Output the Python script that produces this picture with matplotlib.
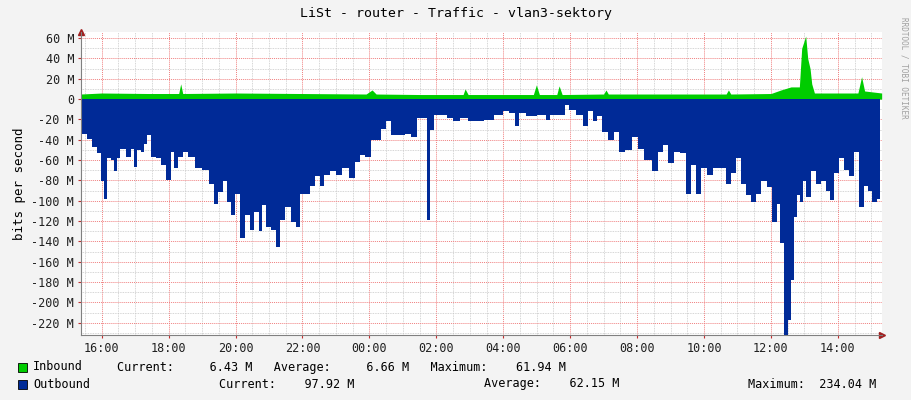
import numpy as np
import matplotlib
matplotlib.use("Agg")
import matplotlib.pyplot as plt
from matplotlib.ticker import MultipleLocator, FixedLocator

# Hours since midnight of day one (values > 24 are the next day), traffic in Mbit/s
out_hours = [15.37, 15.47, 15.62, 15.77, 15.92, 16.02, 16.12, 16.22, 16.32, 16.41, 16.51, 16.61,
             16.81, 16.91, 17.01, 17.11, 17.21, 17.31, 17.41, 17.51, 17.71, 17.81, 18.01, 18.11,
             18.21, 18.36, 18.50, 18.65, 18.90, 19.10, 19.30, 19.40, 19.55, 19.70, 19.80, 19.90,
             20.05, 20.20, 20.35, 20.49, 20.64, 20.74, 20.84, 20.99, 21.14, 21.29, 21.39, 21.59,
             21.74, 21.89, 21.99, 22.14, 22.29, 22.48, 22.58, 22.73, 22.93, 23.08, 23.28, 23.48,
             23.63, 23.78, 23.98, 24.13, 24.28, 24.42, 24.57, 24.72, 24.97, 25.17, 25.32, 25.52,
             25.67, 25.77, 25.87, 25.97, 26.22, 26.41, 26.61, 26.81, 27.06, 27.31, 27.56, 27.91,
             28.06, 28.31, 28.39, 28.56, 28.81, 29.20, 29.35, 29.45, 29.80, 29.88, 30.05, 30.30,
             30.45, 30.60, 30.75, 30.85, 31.04, 31.24, 31.39, 31.54, 31.74, 31.94, 32.09, 32.34,
             32.54, 32.69, 32.84, 33.03, 33.18, 33.38, 33.53, 33.68, 33.83, 33.98, 34.18, 34.38,
             34.58, 34.73, 34.88, 35.02, 35.17, 35.32, 35.47, 35.62, 35.77, 35.97, 36.12, 36.22,
             36.32, 36.47, 36.57, 36.65, 36.72, 36.82, 36.92, 37.01, 37.11, 37.26, 37.41, 37.56,
             37.71, 37.81, 37.96, 38.11, 38.26, 38.41, 38.54, 38.71, 38.86, 38.95, 39.10, 39.25]
out_mbps = [27, 34, 39, 47, 53, 81, 98, 58, 60, 71, 58, 49,
            57, 49, 67, 50, 52, 44, 35, 57, 58, 65, 80, 52,
            68, 57, 52, 57, 68, 70, 83, 103, 91, 81, 101, 114,
            93, 137, 114, 129, 111, 130, 104, 126, 129, 145, 119, 106,
            121, 126, 93, 93, 85, 76, 85, 75, 71, 75, 68, 78,
            62, 55, 57, 40, 40, 29, 22, 35, 35, 34, 37, 19,
            19, 119, 30, 16, 16, 19, 22, 19, 22, 22, 21, 16,
            12, 14, 26, 14, 17, 16, 21, 16, 16, 6, 11, 16,
            26, 12, 22, 17, 32, 40, 32, 52, 50, 37, 49, 60,
            71, 52, 45, 63, 52, 53, 93, 65, 93, 68, 75, 68,
            68, 83, 73, 58, 83, 94, 101, 93, 81, 86, 121, 103,
            142, 234, 217, 178, 116, 94, 101, 81, 96, 71, 83, 81,
            90, 99, 73, 58, 70, 76, 52, 106, 85, 90, 101, 98]

in_hours = [15.37, 16.0, 17.4, 18.3, 18.36, 18.42, 20.0, 23.9, 24.08, 24.2, 25.5, 26.8,
            26.86, 26.95, 28.9, 28.99, 29.08, 29.6, 29.67, 29.76, 31.0, 31.07, 31.14, 32.0,
            34.66, 34.73, 34.8, 36.0, 36.3, 36.6, 36.85, 36.92, 37.04, 37.1, 37.17, 37.22,
            37.3, 38.6, 38.71, 38.8, 39.31]
in_mbps = [5, 6, 5.5, 5.5, 15, 5.5, 6, 5, 9, 5, 4.5, 4.5,
           10, 4.5, 4.5, 14, 4.5, 4.5, 13, 4.5, 5, 9, 5, 5,
           5, 9, 5, 5.5, 9, 12, 12, 50, 62, 40, 30, 15,
           6, 6, 22, 8, 6]

tick_hours = [16, 18, 20, 22, 24, 26, 28, 30, 32, 34, 36, 38]
tick_labels = ["16:00", "18:00", "20:00", "22:00", "00:00", "02:00",
               "04:00", "06:00", "08:00", "10:00", "12:00", "14:00"]
y_ticks = list(range(-220, 61, 20))

legend_rows = [
    ("Inbound", "#00cc00", "Current:     6.43 M   Average:     6.66 M   Maximum:    61.94 M"),
    ("Outbound", "#002a97", None),
]

plt.rcParams['font.family'] = ['DejaVu Sans Mono']
plt.rcParams['font.size'] = 8.5

fig = plt.figure(figsize=(9.11, 4.0), dpi=100, facecolor="#f3f3f3")
ax = fig.add_axes([81 / 911, 65 / 400, 801 / 911, 303 / 400])
ax.set_facecolor("white")

ax.fill_between(in_hours, 0, in_mbps, color="#00cc00", lw=0)
ax.fill_between(out_hours, 0, [-v for v in out_mbps], step="mid", color="#002a97", lw=0)

ax.set_xlim(15.38, 39.32)
ax.set_ylim(-232, 66)

# grid: gray minor, red major
ax.xaxis.set_minor_locator(MultipleLocator(0.5))
ax.yaxis.set_minor_locator(MultipleLocator(10))
ax.grid(which="minor", color="#c8c8c8", ls=(0, (1, 1)), lw=0.6)
ax.set_xticks(tick_hours)
ax.set_xticklabels(tick_labels)
ax.set_yticks(y_ticks)
ax.set_yticklabels(["%d M" % v if v != 0 else "0" for v in y_ticks])
ax.grid(which="major", color="#f08080", ls=(0, (1, 1)), lw=0.7)
ax.set_axisbelow(True)
ax.tick_params(which="both", length=2, color="#c03030", pad=3, labelcolor="#202020")
ax.tick_params(which="minor", length=0)
for s in ["top", "right"]:
    ax.spines[s].set_visible(False)
for s in ["left", "bottom"]:
    ax.spines[s].set_color("#808080")
ax.plot([1], [0], ">", transform=ax.transAxes, color="#a02020", ms=4, clip_on=False)
ax.plot([0], [1], "^", transform=ax.transAxes, color="#a02020", ms=4, clip_on=False)

ax.set_ylabel("bits per second", fontsize=9)
fig.text(0.5, 0.965, "LiSt - router - Traffic - vlan3-sektory", ha="center", va="center", fontsize=9.5)
fig.text(0.992, 0.83, "RRDTOOL / TOBI OETIKER", rotation=270, ha="center", va="center",
         fontsize=5.5, color="#a0a0a0")

# legend rows
fig.patches.append(plt.Rectangle((18 / 911, 1 - 372 / 400), 9 / 911, 9 / 400, transform=fig.transFigure,
                                 facecolor=legend_rows[0][1], edgecolor="black", lw=0.6))
fig.patches.append(plt.Rectangle((18 / 911, 1 - 389 / 400), 9 / 911, 9 / 400, transform=fig.transFigure,
                                 facecolor=legend_rows[1][1], edgecolor="black", lw=0.6))
fig.text(33 / 911, 1 - 367 / 400, legend_rows[0][0], va="center")
fig.text(117 / 911, 1 - 367 / 400, legend_rows[0][2], va="center")
fig.text(33 / 911, 1 - 384 / 400, legend_rows[1][0], va="center")
fig.text(219 / 911, 1 - 384 / 400, "Current:    97.92 M", va="center")
fig.text(484 / 911, 1 - 384 / 400, "Average:    62.15 M", va="center")
fig.text(748 / 911, 1 - 384 / 400, "Maximum:  234.04 M", va="center")

fig.savefig("out.png", dpi=100, facecolor=fig.get_facecolor())
